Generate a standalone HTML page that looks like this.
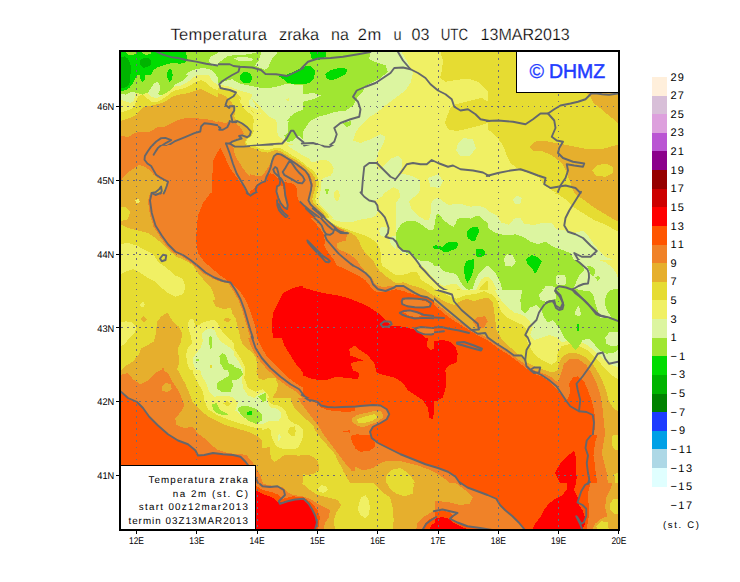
<!DOCTYPE html>
<html><head><meta charset="utf-8"><title>Temperatura zraka</title>
<style>
html,body{margin:0;padding:0;background:#fff;}
body{width:740px;height:582px;overflow:hidden;font-family:"Liberation Sans",sans-serif;}
svg{display:block}
text{font-family:"Liberation Sans",sans-serif;fill:#000}
</style></head><body>
<svg width="740" height="582" viewBox="0 0 740 582" shape-rendering="crispEdges">
<rect width="740" height="582" fill="#fff"/>
<defs><clipPath id="mapclip"><rect x="121" y="52" width="497" height="477"/></clipPath></defs>
<g clip-path="url(#mapclip)">

<svg x="118" y="48" width="185" height="145" viewBox="0 0 740 580">
<rect x="-10" y="-10" width="760" height="600" fill="#f08228"/>
<polygon fill="#ff5500" points="409.5,399.5 392,427 382,447 379.5,472 378,502 377,582 514.5,582 509.5,572 499.5,552 482,527 467,507 452,487 437,457 422,422"/>
<polygon fill="#ff5500" points="552,582 564.5,557 582,542 597,527 607,507 617,502 627,512 637,522 652,527 672,532 692,542 707,552 712,582"/>
<polygon fill="#e6af2d" points="0,352 40,348 80,343 120,335 160,322 200,302 240,288 290,280 330,283 368,282 388,287 408,295 428,300 443,295 468,300 488,315 503,340 500,350 483,360 468,365 453,375 455,385 462,400 465,417 472,437 485,457 497,477 512,497 527,515 537,520 557,517 572,512 587,502 597,487 607,472 612,452 617,437 625,425 632,425 652,430 672,440 692,452 712,467 732,485 742,492 740,0 0,0"/>
<polygon fill="#e6af2d" points="0,542 10,532 25,512 40,497 60,484.5 85,467 105,474.5 120,484.5 132.5,492 142.5,507 155,517 170,526 187.5,532 197.5,539.5 192.5,562 187.5,582 0,582"/>
<polygon fill="#e6dc32" points="0,286 10,285 30,280 45,272.5 65,255 80,235 87.5,215 95,210 107.5,220 125,230 150,232.5 170,230 190,225 210,215 230,202.5 250,185 270,170 290,155 305,137.5 320,127.5 340,127.5 360,132.5 370,142.5 387,172 402,182 422,188 437,198 447,210 452,215 463,230 468,250 465,275 473,292 493,297 508,307 523,325 530,337 525,350 513,365 508,377 513,390 533,395 553,400 568,410 583,425 603,432 620,415 640,408 665,422 690,442 715,465 740,488 740,0 0,0"/>
<polygon fill="#f0f064" points="0,261 10,260 25,257.5 40,252.5 55,240 60,225 70,210 82.5,200 97.5,197.5 110,205 125,215 142.5,220 165,220 185,215 205,205 220,195 235,180 250,167.5 265,157.5 280,140 295,120 310,112.5 330,111 350,107.5 370,115 387,152.5 407,162.5 427,165 447,167.5 467,175 482,187.5 492,200 494.5,215 502,230 517,240 537,250 547,265 483,200 490.5,220 503,240 518,255 538,270 543,290 540.5,315 543,335 535.5,350 518,365 510.5,375 518,386 538,392.5 558,397.5 578,405 593,420 608,425 628,415 648,400 668,395 688,400 708,410 738,425 740,0 0,0"/>
<polygon fill="#dcf5a0" points="0,223.5 10,222.5 30,220 45,215 55,205 65,192.5 80,185 100,182.5 115,190 130,200 145,207.5 165,205 185,200 200,192.5 215,180 230,167.5 245,155 260,145 270,130 280,112.5 295,100 315,97.5 340,92.5 360,87.5 370,87.5 387,137.5 402,145 422,150 447,155 472,165 497,172.5 522,180 537,187.5 532,200 522,215 527,230 542,240 562,250 572,265 533,200 548,215 568,235 583,255 603,275 628,285 638,305 635.5,330 640.5,350 658,365 673,375 688,385 713,387.5 738,397.5 740,0 0,0"/>
<polygon fill="#a0e632" points="0,201 10,200 30,197.5 50,192.5 65,180 80,172.5 100,170 120,167.5 135,160 150,147.5 160,137.5 167.5,145 170,160 165,175 155,185 165,192.5 180,195 197.5,190 210,180 217.5,165 230,155 240,145 250,135 260,120 267.5,107.5 275,95 287.5,85 305,80 325,77.5 350,70 370,67.5 372.5,55 360,47.5 365,35 372.5,22.5 372.5,0 0,0"/>
<polygon fill="#a0e632" points="386,95 387,80 402,60 422,45 437,32.5 462,29 492,27.5 522,25 542,21 572,10 742,10 742,150 722,147.5 692,145 672,142.5 652,150 632,155 612,159 592,161 572,160 547,155 522,150 497,145 472,135 457,125 442,127.5 422,135 407,142.5 394.5,135 387,115"/>
<polygon fill="#dcf5a0" points="572,10 644.5,10 627,30 614.5,45 607,62.5 599.5,80 587,87.5 569.5,80 547,70 562,50 569.5,30"/>
<polygon fill="#dcf5a0" points="464.5,42.5 482,36 507,36 532,40 539.5,47.5 527,54 502,52.5 479.5,50"/>
<polygon fill="#a0e632" points="677,290 692,272.5 712,257.5 732,250 742,247.5 742,290"/>
<polygon fill="#a0e632" points="665.5,350 678,340 680.5,300 688,275 713,260 738,250 738,365 725.5,350 713,355 698,370 678,377.5 670.5,365"/>
<polygon fill="#00dc00" points="0,0 260,0 272.5,30 280,45 270,55 250,62.5 235,60 215,65 200,60 185,67.5 170,75 150,77.5 140,87.5 132.5,100 127.5,120 117.5,135 107.5,140 97.5,132.5 92.5,117.5 85,110 77.5,120 75,140 70,160 60,175 47.5,182.5 30,186 0,188.5"/>
<polygon fill="#00dc00" points="197.5,87.5 207.5,82.5 217.5,87.5 218.5,110 212.5,125 200,137.5 196,115"/>
<polygon fill="#00dc00" points="489.5,107.5 499.5,97.5 517,95 532,105 536,122.5 529.5,137.5 512,142.5 497,137.5 488,125"/>
<polygon fill="#00dc00" points="642,112.5 672,107.5 697,97.5 722,85 742,75 742,146 722,145 697,142.5 677,140 667,127.5 654.5,120"/>
<polygon fill="#a0e632" points="25,10 82.5,10 82.5,22.5 60,26 35,24"/>
<polygon fill="#a0e632" points="107.5,10 150,10 145,21 125,25 110,20"/>
<polygon fill="#00b400" points="0,42.5 12.5,40 25,37.5 40,50 52.5,70 57.5,90 52.5,110 50,130 47.5,150 37.5,165 25,167.5 0,161"/>
<polygon fill="#00b400" points="87.5,52.5 100,45 117.5,40 132.5,45 135,60 125,70 112.5,80 100,75 90,65"/>
<polygon fill="#f0f064" points="672,205 684.5,199 686,212.5 677,211"/>
</svg>
<svg x="303" y="48" width="185" height="145" viewBox="0 0 740 580">
<rect x="-10" y="-10" width="760" height="600" fill="#f0f064"/>
<polygon fill="#e6dc32" points="545,0 560,50 555,90 548,120 570,135 610,128 660,122 700,135 725,160 740,175 740,0"/>
<polygon fill="#e6dc32" points="740,215 715,200 690,205 650,215 610,225 590,240 578,270 568,300 580,325 615,332 660,322 700,312 740,300"/>
<polygon fill="#dcf5a0" points="0,0 385,0 420,60 440,100 430,140 410,170 370,200 330,230 300,255 260,280 230,310 210,340 200,370 230,380 270,365 310,345 330,355 320,385 300,420 290,460 297,475 304,488 324,468 354,441 381,431 397,448 394,481 381,501 407,504 440,514 467,527 470,561 462,584 0,584"/>
<polygon fill="#f0f064" points="321,584 334,575 361,557 381,567 387,584"/>
<polygon fill="#dcf5a0" points="640,360 680,365 692,400 670,430 630,432 612,410 620,380"/>
<polygon fill="#dcf5a0" points="500,520 540,505 560,530 545,560 510,555"/>
<polygon fill="#f0f064" points="50,470 80,450 115,465 125,500 100,525 60,520"/>
<polygon fill="#a0e632" points="0,0 270,0 265,45 300,60 330,70 340,95 310,120 280,135 250,150 240,175 215,200 200,230 170,250 130,255 100,265 60,275 30,290 10,320 0,335"/>
<polygon fill="#dcf5a0" points="0,185 40,180 70,190 40,205 0,215"/>
<polygon fill="#a0e632" points="160,300 190,292 195,305 175,318"/>
<polygon fill="#00dc00" points="0,75 30,70 48,90 45,120 25,140 0,145"/>
<polygon fill="#00dc00" points="25,0 95,0 90,35 60,50 35,45"/>
<polygon fill="#00dc00" points="88,105 110,88 150,78 178,85 170,105 140,120 115,130 95,122"/>
<polygon fill="#f0f064" points="0,400 30,420 60,460 75,510 70,580 0,580"/>
<polygon fill="#e6dc32" points="0,470 25,478 50,505 58,545 50,580 0,580"/>
<polygon fill="#e6af2d" points="0,480 22,487 42,510 48,545 40,580 0,580"/>
<polygon fill="#f08228" points="0,490 18,495 35,515 40,545 30,575 0,580"/>
</svg>
<svg x="488" y="48" width="185" height="145" viewBox="0 0 740 580">
<rect x="-10" y="-10" width="760" height="600" fill="#e6dc32"/>
<polygon fill="#f0f064" points="0,325 30,350 60,390 75,430 90,460 130,490 170,502 204,518 224,548 254,568 280,584 0,584"/>
<polygon fill="#e6af2d" points="392,180 411,199 424,222 448,240 475,263 503,286 525,304 525,180"/>
<polygon fill="#e6af2d" points="165,395 185,375 220,370 260,378 300,385 350,395 400,405 450,405 490,395 525,385 525,584 349,584 339,568 329,538 314,498 294,458 254,428 214,412 180,410"/>
<polygon fill="#e6dc32" points="415,490 435,470 470,462 500,475 500,500 470,515 435,512"/>
</svg>
<svg x="118" y="193" width="185" height="145" viewBox="0 0 740 580">
<rect x="-10" y="-10" width="760" height="600" fill="#e6dc32"/>
<polygon fill="#e6af2d" points="0,0 0,120 40,140 80,150 120,160 150,180 180,205 210,235 235,255 270,270 300,290 320,320 345,350 370,375 385,410 390,440 420,470 450,480 470,500 480,540 490,580 740,580 740,0"/>
<polygon fill="#f08228" points="127,-5 127,4 120,34 127,84 142,134 167,174 192,209 222,239 252,252 282,272 312,296 342,322 377,342 412,356 442,362 462,392 482,429 497,469 510,514 522,554 532,584 740,580 740,-5"/>
<polygon fill="#ff5500" points="370,0 340,40 320,90 315,140 312,190 320,240 345,275 380,305 410,330 440,352 468,372 492,400 512,430 528,470 542,510 552,550 557,580 740,580 740,0"/>
<polygon fill="#ff0000" points="620,580 615,530 620,480 640,440 660,400 700,380 740,370 740,580"/>
<polygon fill="#e6af2d" points="150,530 165,500 185,478 205,485 215,510 240,530 265,550 270,580 150,580"/>
<polygon fill="#e6af2d" points="88,505 100,488 115,500 105,520"/>
<polygon fill="#e6af2d" points="420,505 435,495 450,505 438,520"/>
<polygon fill="#f0f064" points="0,515 30,512 60,520 72,545 62,584 0,584"/>
<polygon fill="#e6dc32" points="0,60 30,55 48,75 40,105 0,115"/>
<polygon fill="#f0f064" points="68,30 80,22 88,35 75,42"/>
<polygon fill="#f0f064" points="0,205 40,200 75,210 110,230 140,245 165,280 195,300 230,330 260,345 270,375 260,405 230,415 200,400 175,380 150,355 120,340 90,320 60,305 30,315 0,330"/>
<polygon fill="#f0f064" points="275,520 290,500 310,520 318,580 280,580"/>
<polygon fill="#f0f064" points="82,445 98,430 110,445 100,462"/>
<polygon fill="#f0f064" points="335,540 360,515 390,520 405,560 410,580 330,580"/>
<polygon fill="#dcf5a0" points="345,565 365,545 385,555 390,580 345,580"/>
</svg>
<svg x="303" y="193" width="185" height="145" viewBox="0 0 740 580">
<rect x="-10" y="-10" width="760" height="600" fill="#ff5500"/>
<polygon fill="#ff0000" points="0,378 40,390 80,400 130,408 180,420 230,440 270,460 300,480 330,510 350,530 400,535 440,545 470,560 490,580 0,580"/>
<polygon fill="#f08228" points="0,65 15,80 30,100 50,120 70,145 82.5,165 87.5,190 85,210 95,230 110,250 125,270 135,290 160,300 190,315 220,330 250,350 268,372 285,392 310,398 345,392 372,385 402,392 422,399.5 452,408 487,414.5 517,429.5 537,447 554.5,467 572,484.5 592,498 612,512 632,527 652,542 672,554.5 692,562 717,566 742,569.5 745,0 0,0"/>
<polygon fill="#f08228" points="399.5,429.5 417,423 452,424.5 487,432 509.5,442 507,452 482,456 447,454.5 417,449.5 399.5,442"/>
<polygon fill="#f08228" points="402,477 427,472 457,479.5 472,489.5 457,497 427,492"/>
<polygon fill="#f08228" points="542,527 572,527 607,537 642,552 672,564.5 652,567 622,557 587,544.5 552,537"/>
<polygon fill="#f08228" points="452,542 482,537 522,542 572,547 577,557 537,559.5 497,564.5 467,557"/>
<polygon fill="#e6af2d" points="22.5,0 27.5,30 37.5,55 52.5,77.5 70,95 90,110 115,125 140,137.5 160,147.5 175,165 172.5,190 150,195 137.5,200 135,215 145,227.5 165,235 185,245 205,260 220,275 230,290 250,315 275,340 292,368 320,376 350,372 372,373 372,373 402,370.5 422,383 447,398 472,410.5 497,418 522,433 542,450.5 559.5,468 577,483 597,492 617,499.5 637,504.5 657,507 677,502 697,494.5 717,489.5 732,492 734.5,512 722,527 717,547 727,567 742,577 745,0 0,0"/>
<polygon fill="#e6dc32" points="30,0 35,30 45,60 62.5,85 82.5,102.5 105,117.5 130,131 155,142.5 175,152.5 195,162.5 210,172.5 220,185 227.5,200 235,220 250,240 265,255 280,270 290,290 305,310 335,335 372,362 372,362 402,357 427,367 452,374.5 482,384.5 507,399.5 527,417 547,437 567,454.5 587,464.5 607,469.5 622,457 632,432 652,427 672,437 692,447 712,452 722,437 729.5,417 742,412 745,0 0,0"/>
<polygon fill="#f0f064" points="37.5,0 42.5,30 52.5,60 72.5,87.5 95,107.5 120,122.5 145,135 170,142.5 190,150 210,157.5 235,165 260,175 280,187.5 295,200 305,215 310,235 312.5,260 315,290 372,329.5 397,327 422,322 434.5,314.5 452,314.5 464.5,329.5 472,347 492,359.5 517,374.5 537,392 557,412 572,427 587,442 602,454.5 612,442 607,417 604.5,392 622,382 642,399.5 672,409.5 697,399.5 712,372 742,347 745,0 0,0"/>
<polygon fill="#dcf5a0" points="50,0 55,30 65,55 85,80 110,100 140,112.5 170,117.5 200,115 225,107.5 250,102.5 270,100 290,90 300,70 295,50 285,35 265,27.5 245,15 232.5,0"/>
<polygon fill="#f0f064" points="127.5,0 147.5,0 142.5,25 136,35 131,20"/>
<polygon fill="#dcf5a0" points="232.5,-2.5 325,-2.5 320,10 300,25 280,32.5 267.5,30 247.5,16"/>
<polygon fill="#dcf5a0" points="305,150 312.5,137.5 330,135 340,150 335,170 320,175 307.5,167.5"/>
<polygon fill="#dcf5a0" points="372,37.5 387,20 389.5,0 459.5,0 457,7.5 437,20 424.5,35 432,60 447,77.5 467,95 487,107.5 502,107.5 509.5,90 512,60 514.5,35 527,22.5 542,20 557,30 572,42.5 587,50 607,42.5 632,42.5 652,50 672,55 697,50 722,57.5 744.5,70 744.5,292 744.5,334.5 727,337 712,347 702,367 692,389.5 672,399.5 652,397 632,382 617,367 602,362 582,367 562,372 537,357 517,334.5 497,312 479.5,292 469.5,290 452,267.5 437,250 424.5,245 399.5,240 382,225 372,200"/>
<polygon fill="#dcf5a0" points="345,185 357.5,172.5 372.5,170 372.5,225 360,215 350,200"/>
<polygon fill="#a0e632" points="372,160 382,140 397,120 417,112.5 447,112.5 472,125 492,140 507,150 522,145 528,120 531,95 539.5,80 552,95 567,112.5 587,127.5 602,135 612,120 617,102.5 642,100 672,102.5 692,92.5 704.5,92.5 722,107.5 744.5,125 744.5,292 732,292 717,307 702,322 692,342 684.5,367 677,384.5 659.5,387 642,372 627,352 617,329.5 597,319.5 572,317 557,307 544.5,292 522,290 517,280 497,270 472,272.5 447,260 427,245 407,235 387,220 372,200"/>
<polygon fill="#00dc00" points="519.5,215 529.5,207.5 542,212.5 557,215 572,202.5 587,195 617,196 619.5,210 612,222.5 592,230 577,237.5 562,235 547,225 527,225"/>
<polygon fill="#00dc00" points="654.5,155 667,142.5 682,135 699.5,137.5 706,150 699.5,165 692,180 689.5,192.5 674.5,192.5 662,182.5 655.5,170"/>
<polygon fill="#00dc00" points="692,225 717,224 729.5,237.5 724.5,252.5 702,257.5 691,250"/>
<polygon fill="#00dc00" points="647,292 652,272.5 667,267.5 682,265 683,292 684.5,292 679.5,317 669.5,342 657,359.5 649.5,342 644.5,317 644.5,292"/>
</svg>
<svg x="488" y="193" width="185" height="145" viewBox="0 0 740 580">
<rect x="-10" y="-10" width="760" height="600" fill="#f0f064"/>
<polygon fill="#e6dc32" points="250,-5 284,8 314,28 344,58 384,83 424,108 474,128 525,158 525,-5"/>
<polygon fill="#e6af2d" points="345,-5 354,8 384,28 424,58 474,88 525,118 525,-5"/>
<polygon fill="#dcf5a0" points="0,72 34,88 54,118 84,128 104,103 129,98 144,123 184,128 224,118 254,118 274,145 310,150 345,160 380,150 400,170 420,200 440,225 470,255 500,268 525,272 525,580 0,580"/>
<polygon fill="#dcf5a0" points="100,25 115,10 135,20 130,42 108,45"/>
<polygon fill="#a0e632" points="0,140 30,160 70,170 110,165 140,175 170,195 200,205 230,195 260,215 290,225 330,240 345,270 370,300 395,320 400,345 370,360 345,380 365,400 400,430 430,460 450,485 480,500 525,515 525,580 220,580 200,560 170,530 185,500 200,470 195,440 175,460 150,480 120,475 90,440 60,400 50,360 30,320 0,290"/>
<polygon fill="#a0e632" points="470,410 490,390 525,385 525,440 495,445 472,430"/>
<polygon fill="#a0e632" points="430,340 440,333 447,343 438,350"/>
<polygon fill="#dcf5a0" points="62,265 75,245 100,250 112,275 95,295 70,290"/>
<polygon fill="#dcf5a0" points="270,340 300,330 312,350 300,372 275,368"/>
<polygon fill="#dcf5a0" points="350,340 365,315 390,300 405,320 395,350 370,362"/>
<polygon fill="#dcf5a0" points="200,400 225,380 260,378 272,400 255,430 225,440 205,425"/>
<polygon fill="#dcf5a0" points="345,475 360,455 375,470 365,492"/>
<polygon fill="#dcf5a0" points="230,540 250,520 265,540 250,570 235,565"/>
<polygon fill="#00dc00" points="150,265 175,248 200,258 215,275 200,305 188,325 175,300 158,282"/>
<polygon fill="#00dc00" points="355,525 362,525 362,555 355,555"/>
<polygon fill="#f0f064" points="0,335 20,355 40,395 60,435 90,465 120,495 150,503 168,525 158,555 140,580 0,580"/>
<polygon fill="#e6dc32" points="0,395 20,420 40,460 70,490 110,510 130,525 100,540 70,545 50,580 0,580"/>
<polygon fill="#e6af2d" points="0,410 15,440 30,480 35,520 30,580 0,580"/>
<polygon fill="#f08228" points="0,470 12,500 15,540 8,580 0,580"/>
</svg>
<svg x="118" y="338" width="185" height="145" viewBox="0 0 740 580">
<rect x="-10" y="-10" width="760" height="600" fill="#e6af2d"/>
<polygon fill="#f08228" points="0,150 40,140 60,165 90,185 120,170 150,140 175,125 200,140 215,170 235,200 250,228 266,268 253,294 229,321 233,348 266,361 299,354 319,381 346,401 372,427 399,447 439,461 492,464 515,470 540,500 565,540 580,580 0,580"/>
<polygon fill="#e6af2d" points="175,195 190,180 212,185 215,205 195,218 178,210"/>
<polygon fill="#ff5500" points="0,205 12,215 40,240 75,255 100,280 125,315 160,350 200,385 240,410 280,425 310,450 320,470 345,468 380,460 420,465 460,468 490,475 510,495 525,515 545,545 560,580 0,580"/>
<polygon fill="#f08228" points="518,-5 535,40 560,82 595,124 636,162 678,194 715,216 745,245 745,-5"/>
<polygon fill="#ff5500" points="555,0 575,40 600,80 630,110 670,150 710,180 745,202 745,0"/>
<polygon fill="#ff0000" points="655,0 665,30 690,70 715,110 745,142 745,0"/>
<polygon fill="#e6dc32" points="235,0 225,40 230,90 245,140 270,185 285,220 300,260 330,290 370,320 420,345 470,360 520,375 560,395 590,420 600,450 605,480 620,500 650,495 690,470 730,450 745,445 745,300 700,310 660,290 640,260 624,248 620,234 634,214 640,187 630,161 607,158 581,168 561,161 554,134 557,108 551,78 534,54 514,41 497,21 487,-5"/>
<polygon fill="#e6dc32" points="0,-5 75,-5 78,20 70,45 85,70 60,95 30,108 0,112"/>
<polygon fill="#f0f064" points="0,-5 62,-5 55,8 35,14 0,14"/>
<polygon fill="#f0f064" points="300,0 290,40 295,90 300,140 320,180 340,215 345,250 360,285 400,310 450,330 500,345 550,360 590,360 630,350 650,320 640,285 610,260 600,225 580,205 550,215 520,200 505,160 510,120 490,80 470,50 450,20 440,0"/>
<polygon fill="#f0f064" points="625,390 640,370 660,385 655,415 635,420"/>
<polygon fill="#f0f064" points="682,370 700,352 715,368 705,390 688,388"/>
<polygon fill="#dcf5a0" points="330,0 315,40 320,100 335,150 355,185 365,215 385,235 420,230 455,235 480,260 470,290 490,310 530,335 570,345 610,335 635,315 625,290 600,280 585,250 590,215 570,220 545,240 520,230 500,200 495,160 500,125 480,90 455,55 430,25 410,0"/>
<polygon fill="#f0f064" points="400,265 420,240 455,240 470,262 455,285 420,288"/>
<polygon fill="#e6dc32" points="420,262 435,252 452,262 440,275"/>
<polygon fill="#a0e632" points="405,70 420,60 435,75 440,100 465,115 490,125 500,145 480,165 455,170 460,190 450,215 415,218 395,200 395,180 420,165 445,150 440,130 415,115 405,95"/>
<polygon fill="#a0e632" points="375,265 395,260 405,285 430,300 445,305 420,310 395,300 380,285"/>
<polygon fill="#a0e632" points="478,285 495,270 520,272 555,285 575,305 575,330 555,345 520,330 495,310"/>
<polygon fill="#a0e632" points="560,235 590,218 595,250 580,255"/>
<polygon fill="#a0e632" points="365,0 378,0 375,45 368,40"/>
<polygon fill="#00dc00" points="515,295 535,293 537,307 517,308"/>
</svg>
<svg x="303" y="338" width="185" height="145" viewBox="0 0 740 580">
<rect x="-10" y="-10" width="760" height="600" fill="#ff5500"/>
<polygon fill="#ff0000" points="0,0 500,0 495,35 510,50 525,40 530,15 560,10 600,20 615,40 620,70 610,100 580,120 570,150 575,190 570,235 540,240 525,280 520,325 505,320 500,280 480,250 450,230 420,210 400,180 370,160 330,150 295,140 285,100 260,70 230,50 205,30 185,45 190,70 215,80 240,90 210,95 190,100 200,130 225,140 220,165 180,160 130,155 90,170 40,165 0,150"/>
<polygon fill="#f08228" points="-5,228 30,245 70,268 120,275 180,278 230,272 280,268 310,270 335,285 345,305 335,325 310,340 280,355 268,375 275,400 300,420 340,440 390,465 440,485 490,505 540,520 580,535 610,555 630,584 0,584"/>
<polygon fill="#ff5500" points="190,395 215,385 250,390 270,385 285,410 290,435 265,452 230,455 205,440"/>
<polygon fill="#ff5500" points="160,370 185,370 185,378 160,378"/>
<polygon fill="#e6af2d" points="195,320 215,308 250,300 290,290 315,295 322,315 300,335 270,345 240,358 215,350"/>
<polygon fill="#e6dc32" points="215,325 245,315 285,305 300,315 280,330 245,340 220,338"/>
<polygon fill="#e6af2d" points="0,280 30,300 55,330 80,370 110,410 140,445 170,480 200,510 240,530 280,520 310,500 340,490 380,490 420,500 460,510 500,525 540,545 570,565 590,584 0,584"/>
<polygon fill="#e6dc32" points="0,330 30,345 50,380 80,420 110,460 140,500 165,540 190,584 0,584"/>
<polygon fill="#e6dc32" points="335,545 360,525 390,520 420,540 440,565 450,584 330,584"/>
<polygon fill="#f0f064" points="0,340 20,360 30,400 25,440 0,450"/>
<polygon fill="#e6af2d" points="0,475 30,465 55,480 65,510 50,540 20,548 0,545"/>
</svg>
<svg x="488" y="338" width="185" height="145" viewBox="0 0 740 580">
<rect x="-10" y="-10" width="760" height="600" fill="#ff5500"/>
<polygon fill="#ff0000" points="268,540 290,500 320,470 345,450 352,480 350,520 355,560 350,584 290,584 278,560"/>
<polygon fill="#f08228" points="0,10 40,45 80,80 120,110 160,130 200,140 240,160 275,195 300,215 315,185 325,150 345,120 370,125 395,160 412,200 428,250 440,300 445,340 440,380 428,420 422,470 428,510 432,550 438,584 525,584 525,0 0,0"/>
<polygon fill="#e6af2d" points="0,0 30,15 70,50 110,85 150,105 190,120 230,135 265,165 285,150 300,120 320,95 350,90 380,105 410,140 435,180 450,220 460,270 468,320 470,370 462,420 455,460 465,500 475,540 480,584 525,584 525,0"/>
<polygon fill="#e6dc32" points="0,0 40,25 80,55 120,80 160,95 200,105 240,120 265,140 280,120 295,95 320,75 355,72 390,90 420,120 450,160 470,200 484,248 499,278 525,293 525,0"/>
<polygon fill="#e6dc32" points="494,400 505,380 525,378 525,450 505,445 495,425"/>
<polygon fill="#e6dc32" points="505,545 525,535 525,584 510,584"/>
<polygon fill="#f0f064" points="150,0 160,40 165,75 200,90 235,100 260,110 275,85 295,65 330,55 365,55 395,70 420,95 445,130 470,160 490,185 510,200 525,205 525,0"/>
<polygon fill="#dcf5a0" points="290,0 305,30 330,50 360,45 390,20 410,30 420,70 440,110 470,140 500,150 525,150 525,0"/>
<polygon fill="#a0e632" points="305,0 320,25 345,45 360,25 380,0"/>
<polygon fill="#a0e632" points="420,0 425,40 440,80 460,110 490,125 525,120 525,0"/>
<polygon fill="#dcf5a0" points="470,0 468,25 490,40 510,30 515,0"/>
</svg>
<svg x="250" y="483" width="185" height="52" viewBox="0 52 740 208">
<rect x="-10" y="-10" width="760" height="280" fill="#e6af2d"/>
<polygon fill="#f08228" points="0,20 20,30 40,50 70,60 100,65 130,70 150,90 170,100 210,105 240,115 270,135 300,150 320,160 315,190 300,210 295,240 0,240"/>
<polygon fill="#ff5500" points="0,50 20,60 50,80 90,90 115,100 130,115 170,105 215,110 245,130 270,160 280,190 275,220 272,240 0,240"/>
<polygon fill="#ff0000" points="0,70 20,80 50,95 90,110 110,130 140,125 180,115 215,120 240,145 260,175 268,210 262,240 0,240"/>
<polygon fill="#e6dc32" points="195,20 230,10 280,5 330,10 380,0 440,0 480,30 500,60 530,90 560,110 570,150 575,200 570,240 340,240 335,200 345,170 365,140 350,120 310,110 270,100 240,80 210,55"/>
<polygon fill="#e6dc32" points="545,45 570,20 610,15 640,30 655,60 650,95 620,105 585,95 560,75"/>
<polygon fill="#f0f064" points="435,135 445,110 462,100 475,120 480,150 475,180 460,192 442,180 432,160"/>
<polygon fill="#f0f064" points="270,75 285,60 305,65 312,80 295,92 278,88"/>
<polygon fill="#f08228" points="665,240 670,210 690,190 715,175 745,158 745,240"/>
<polygon fill="#ff5500" points="690,240 700,215 720,195 745,183 745,240"/>
<polygon fill="#ff0000" points="715,240 725,220 745,208 745,240"/>
</svg>
<svg x="435" y="483" width="185" height="52" viewBox="0 52 740 208">
<rect x="-10" y="-10" width="760" height="280" fill="#ff5500"/>
<polygon fill="#ff0000" points="480,0 540,0 560,20 565,50 555,80 570,110 575,140 590,160 600,190 600,215 590,240 390,240 400,215 420,190 435,160 455,135 480,115 510,100 530,75 525,45 500,25"/>
<polygon fill="#f08228" points="40,-5 70,25 100,50 130,70 170,85 210,100 245,115 260,140 280,160 310,185 335,210 360,240 0,240 0,0"/>
<polygon fill="#e6af2d" points="0,25 40,30 80,50 120,80 150,110 140,135 100,140 60,130 20,125 0,125"/>
<polygon fill="#ff5500" points="0,170 30,162 60,170 75,185 65,198 95,212 135,228 185,235 230,240 0,240"/>
<polygon fill="#ff0000" points="0,195 30,188 55,195 70,210 100,225 140,240 0,240"/>
<polygon fill="#f08228" points="605,0 625,30 620,60 610,100 615,140 615,185 610,215 605,240 740,240 740,0"/>
<polygon fill="#e6af2d" points="740,20 715,40 700,80 685,110 680,150 690,185 665,195 640,215 630,240 740,240"/>
<polygon fill="#e6dc32" points="700,135 715,115 740,115 740,180 715,175 702,160"/>
<polygon fill="#e6dc32" points="645,225 665,205 690,210 695,235 650,240"/>
</svg>
<svg x="434" y="290" width="184" height="145" viewBox="0 0 736 580">
<rect x="-10" y="-10" width="760" height="600" fill="#ff5500"/>
<polygon fill="#ff0000" points="0,205 30,200 60,205 85,225 95,255 90,290 60,300 45,320 50,360 45,400 35,430 10,445 0,445"/>
<polygon fill="#f08228" points="0,60 30,85 60,110 100,135 140,160 180,185 220,205 260,235 300,260 340,290 370,315 400,335 430,345 460,365 490,395 510,420 530,445 545,410 540,375 555,350 575,345 600,365 615,400 630,440 640,480 645,520 640,584 745,584 745,-5 0,-5"/>
<polygon fill="#e6af2d" points="0,45 30,70 60,95 100,125 140,150 180,175 220,195 260,225 300,250 340,280 370,300 400,320 440,335 470,350 495,370 510,330 520,295 545,275 575,275 610,300 635,340 655,385 668,430 675,480 680,530 685,584 745,584 745,-5 0,-5"/>
<polygon fill="#f08228" points="155,125 175,108 205,105 215,125 200,150 175,158"/>
<polygon fill="#e6dc32" points="0,20 40,45 80,60 105,45 130,35 160,45 190,35 215,30 235,50 240,80 245,120 250,160 270,195 300,225 335,255 365,285 400,305 440,320 475,330 495,320 500,290 515,265 545,250 580,255 615,275 645,310 670,355 688,400 698,440 715,470 735,485 745,490 745,-5 0,-5"/>
<polygon fill="#f0f064" points="20,-5 50,20 90,35 130,20 170,15 200,5 235,20 255,45 265,80 285,105 320,125 355,140 375,165 370,200 385,230 400,255 430,280 470,300 490,285 495,250 510,225 545,215 580,225 620,245 650,275 680,310 710,340 745,362 745,-5"/>
<polygon fill="#dcf5a0" points="240,-5 260,30 285,60 320,90 355,100 380,120 395,150 385,180 400,200 430,190 460,180 490,190 510,210 545,200 585,205 620,225 650,250 680,280 710,300 745,312 745,-5"/>
<polygon fill="#a0e632" points="355,-5 345,40 350,80 365,95 385,70 410,60 430,80 440,110 455,130 475,120 500,150 520,190 545,215 565,240 580,225 595,200 620,195 640,215 660,240 690,255 720,250 745,235 745,-5"/>
<polygon fill="#dcf5a0" points="420,20 440,-5 480,-5 470,30 445,45 425,40"/>
<polygon fill="#dcf5a0" points="565,85 578,65 590,85 578,100"/>
<polygon fill="#dcf5a0" points="685,190 700,170 745,165 745,220 710,225 690,215"/>
<polygon fill="#dcf5a0" points="690,-5 745,-5 745,40 715,45 695,30"/>
<polygon fill="#00dc00" points="572,135 579,135 579,165 572,165"/>
</svg>
<svg x="250" y="145" width="93" height="73" viewBox="0 0 740 580.86">
<rect x="-10" y="-10" width="760" height="600.86" fill="#ff5500"/>
<polygon fill="#f08228" points="-5,372 30,350 50,320 80,300 110,290 130,270 140,240 160,225 185,232 210,255 240,275 270,290 300,300 330,305 360,320 375,350 375,400 385,440 410,470 440,500 470,530 500,560 520,590 750,590 750,-5 -5,-5"/>
<polygon fill="#f08228" points="215,330 235,315 260,330 275,370 285,420 295,470 290,505 265,490 240,455 225,415 213,375"/>
<polygon fill="#e6af2d" points="-5,232 30,240 60,250 90,245 120,215 140,185 160,150 175,115 195,85 220,70 250,75 290,95 330,115 370,140 410,170 445,200 475,235 490,270 500,310 495,350 480,390 470,430 480,465 510,500 540,530 570,560 590,590 750,590 750,-5 -5,-5"/>
<polygon fill="#e6dc32" points="-5,18 30,25 60,40 100,55 140,60 170,50 200,40 230,45 270,65 310,90 350,110 390,135 430,165 465,195 495,225 515,260 525,300 520,345 505,390 495,430 505,460 530,490 560,520 590,550 615,590 750,590 750,-5 -5,-5"/>
<polygon fill="#f0f064" points="20,-5 50,15 100,35 150,40 190,25 225,20 260,35 300,60 340,85 380,110 420,140 455,170 490,195 520,225 540,260 548,300 545,345 530,390 520,430 530,460 555,490 585,520 615,550 640,590 750,590 750,-5"/>
<polygon fill="#dcf5a0" points="290,-5 320,20 360,45 400,70 440,95 470,105 480,130 510,140 540,125 580,115 620,125 650,150 665,185 660,220 640,245 610,255 580,265 565,300 565,350 555,400 545,440 555,470 580,500 610,530 640,555 670,590 750,590 750,-5"/>
<polygon fill="#f0f064" points="670,380 690,355 710,370 715,410 700,445 680,440 668,410"/>
<polygon fill="#a0e632" points="598,355 612,345 628,355 622,380 612,395 602,375"/>
</svg>
<svg x="262" y="398" width="93" height="73" viewBox="0 0 740 580.86">
<rect x="-10" y="-10" width="760" height="600.86" fill="#e6dc32"/>
<polygon fill="#e6af2d" points="225,-5 240,40 260,80 290,110 320,140 350,170 380,190 405,215 420,250 440,285 470,320 500,350 530,390 560,420 585,455 600,490 620,530 640,560 650,590 750,590 750,-5"/>
<polygon fill="#f08228" points="285,-5 310,40 340,80 370,120 400,160 430,200 460,240 490,290 520,330 550,370 580,410 610,450 640,490 670,530 700,560 720,590 750,590 750,-5"/>
<polygon fill="#ff5500" points="345,-5 370,12 400,25 440,45 470,75 520,95 580,105 640,108 700,108 750,105 750,-5"/>
<polygon fill="#ff5500" points="705,300 750,295 750,400 725,370 710,330"/>
<polygon fill="#ff5500" points="645,262 700,257 700,275 650,272"/>
<polygon fill="#e6af2d" points="712,165 735,150 750,150 750,215 730,205 715,185"/>
<polygon fill="#e6af2d" points="-5,400 30,395 60,390 65,430 70,480 100,510 130,490 160,465 190,450 240,450 290,460 330,450 370,450 410,470 440,500 455,540 450,590 -5,590"/>
<polygon fill="#f0f064" points="40,-5 55,30 80,50 130,60 160,75 185,100 200,140 215,175 250,200 290,215 320,240 330,280 320,330 300,370 285,400 240,405 190,405 140,400 110,375 90,340 75,300 70,260 50,240 20,250 -5,262 -5,-5"/>
<polygon fill="#e6dc32" points="205,260 225,235 260,225 268,260 262,300 240,305 215,285"/>
<polygon fill="#dcf5a0" points="125,300 140,288 150,305 145,335 130,340"/>
<polygon fill="#dcf5a0" points="-5,-5 40,-5 45,40 70,75 120,85 150,110 150,150 135,180 100,185 50,185 20,200 -5,215"/>
<polygon fill="#a0e632" points="-5,-5 35,-5 30,20 10,35 -5,35"/>
</svg>
<svg x="121" y="75" width="97" height="70" viewBox="18.0488 0 583.577 421.138">
<rect x="-10" y="-10" width="760" height="441.138" fill="#f08228"/>
<polygon fill="#e6af2d" points="-5,362 18,365 60,375 100,350 140,340 180,345 215,330 240,310 270,315 300,300 340,280 380,265 420,258 470,260 520,265 560,270 600,285 640,300 680,290 720,300 745,310 745,-5 -5,-5"/>
<polygon fill="#e6dc32" points="-5,278 18,275 50,265 80,255 110,240 130,215 150,195 170,190 200,185 240,175 270,165 300,150 330,130 360,120 390,115 420,110 450,100 480,88 500,85 530,100 560,115 590,130 620,145 650,160 675,185 700,190 720,205 745,220 745,-5 -5,-5"/>
<polygon fill="#f0f064" points="-5,228 18,225 50,215 80,205 100,185 110,150 125,125 150,120 175,140 200,160 230,165 260,150 290,130 320,105 350,90 380,85 410,75 440,60 470,40 500,30 530,45 555,70 580,85 610,95 640,110 665,130 690,150 715,165 745,180 745,-5 -5,-5"/>
<polygon fill="#dcf5a0" points="-5,150 18,150 50,160 75,170 95,155 105,115 120,90 145,85 175,105 200,130 230,140 260,125 285,105 310,85 340,70 375,65 405,50 435,30 460,10 480,-5 -5,-5"/>
<polygon fill="#dcf5a0" points="545,-5 560,25 585,50 610,65 640,80 670,95 700,105 745,120 745,-5"/>
<polygon fill="#a0e632" points="-5,115 18,115 50,118 80,100 110,108 150,118 180,105 200,75 220,48 240,42 252,62 250,95 240,115 265,122 295,105 325,85 340,60 365,45 395,30 415,10 425,-5 -5,-5"/>
<polygon fill="#a0e632" points="585,-5 600,15 630,30 660,25 690,5 700,-5"/>
<polygon fill="#00dc00" points="-5,95 18,95 45,92 70,75 90,50 105,20 115,-5 -5,-5"/>
<polygon fill="#00dc00" points="130,-5 165,-5 160,30 148,45 135,25"/>
<polygon fill="#00dc00" points="295,-5 330,-5 325,30 310,45 298,20"/>
<polygon fill="#00b400" points="-5,-5 75,-5 75,30 65,60 45,75 18,80 -5,80"/>
</svg>
<svg x="121" y="52" width="97" height="23" viewBox="18.0488 24.065 583.577 138.374">
<rect x="-10" y="-10" width="760" height="441.138" fill="#a0e632"/>
<polygon fill="#dcf5a0" points="545,75 560,50 595,32 640,20 745,20 745,62 700,52 668,46 635,65 612,92 590,112 565,105"/>
<polygon fill="#dcf5a0" points="400,170 425,145 465,128 510,120 545,126 575,142 592,165 595,210 395,210"/>
<polygon fill="#f0f064" points="470,210 485,180 505,160 525,170 545,195 555,210"/>
<polygon fill="#00dc00" points="0,20 405,20 415,50 420,75 400,90 370,95 340,90 300,95 270,105 240,115 215,130 200,160 190,200 165,205 150,170 135,165 120,185 115,210 0,210"/>
<polygon fill="#00dc00" points="298,140 312,125 325,135 330,170 320,200 305,210 297,180"/>
<polygon fill="#a0e632" points="45,20 110,20 105,38 80,42 55,38"/>
<polygon fill="#a0e632" points="145,20 200,20 195,36 170,42 150,36"/>
<polygon fill="#00b400" points="0,60 40,50 60,65 75,100 80,140 70,180 65,220 45,245 0,250"/>
<polygon fill="#00b400" points="130,75 155,60 185,62 200,80 195,105 175,115 150,120 135,100"/>
</svg>
<svg x="545" y="260" width="73" height="58" viewBox="0 0 730 580">
<rect x="-10" y="-10" width="760" height="600" fill="#a0e632"/>
<polygon fill="#dcf5a0" points="320,-5 520,-5 600,20 670,70 710,130 725,165 745,175 745,290 700,290 650,300 620,330 605,380 600,440 620,500 650,550 670,590 560,590 540,540 520,480 500,420 490,370 470,330 440,310 400,310 350,300 300,290 290,270 310,225 335,165 365,125 395,105 380,70 345,25"/>
<polygon fill="#f0f064" points="520,-5 600,20 670,70 710,130 725,165 745,175 745,-5"/>
<polygon fill="#a0e632" points="420,65 450,60 480,75 500,100 495,140 480,165 455,140 440,100"/>
<polygon fill="#a0e632" points="505,175 530,160 550,170 545,195 525,205"/>
<polygon fill="#dcf5a0" points="105,170 125,150 200,150 210,180 205,245 130,250 108,230"/>
<polygon fill="#dcf5a0" points="-5,265 60,260 100,270 95,310 110,350 105,390 80,400 40,405 -5,420"/>
<polygon fill="#dcf5a0" points="295,530 315,490 335,460 350,490 360,540 340,560 305,550"/>
</svg>
<svg x="121" y="300" width="113" height="70" viewBox="18.0488 0 679.837 421.138">
<rect x="-10" y="-10" width="760" height="441.138" fill="#e6dc32"/>
<polygon fill="#e6af2d" points="235,130 260,100 295,75 310,95 330,130 365,160 385,200 380,250 360,290 365,340 370,380 350,425 15,425 40,400 90,370 130,320 140,290 180,270 215,250 228,200 232,160"/>
<polygon fill="#e6af2d" points="135,115 155,95 175,115 155,135"/>
<polygon fill="#e6af2d" points="565,-5 590,40 640,55 680,45 690,90 720,110 745,100 745,-5"/>
<polygon fill="#e6af2d" points="632,120 655,105 680,115 660,135"/>
<polygon fill="#f08228" points="262,425 270,405 282,425"/>
<polygon fill="#f0f064" points="0,135 50,128 85,135 110,160 100,200 70,225 45,260 0,292"/>
<polygon fill="#f0f064" points="128,35 150,8 162,25 150,45"/>
<polygon fill="#f0f064" points="420,135 440,110 458,125 465,170 500,140 540,125 580,120 600,140 620,180 650,215 685,245 720,290 745,320 745,425 435,425 415,380 410,330 420,290 445,260 440,220 425,180"/>
<polygon fill="#dcf5a0" points="505,200 530,180 560,170 585,185 595,220 620,250 650,270 690,300 720,340 745,370 745,425 470,425 455,390 450,350 470,320 495,290 510,250"/>
<polygon fill="#a0e632" points="548,225 560,215 568,235 565,290 552,295"/>
<polygon fill="#a0e632" points="610,340 625,320 645,325 655,350 665,380 700,395 735,410 745,425 640,425 615,380"/>
<polygon fill="#a0e632" points="470,355 485,352 487,365 472,367"/>
<polygon fill="#e6dc32" points="552,395 565,392 567,408 553,408"/>
</svg>
<defs><clipPath id="nopatch"><path clip-rule="evenodd" d="M0,0H740V582H0ZM434,290H618V435H434ZM250,145H343V218H250ZM262,398H355V471H262ZM121,75H218V145H121ZM121,52H218V75H121ZM545,260H618V318H545ZM121,300H234V370H121Z"/></clipPath>
<clipPath id="pc0"><rect x="434" y="290" width="184" height="145"/></clipPath>
<clipPath id="px0"><path clip-rule="evenodd" d="M0,0H740V582H0ZM250,145H343V218H250ZM262,398H355V471H262ZM121,75H218V145H121ZM121,52H218V75H121ZM545,260H618V318H545ZM121,300H234V370H121Z"/></clipPath>
<clipPath id="pc1"><rect x="250" y="145" width="93" height="73"/></clipPath>
<clipPath id="px1"><path clip-rule="evenodd" d="M0,0H740V582H0ZM262,398H355V471H262ZM121,75H218V145H121ZM121,52H218V75H121ZM545,260H618V318H545ZM121,300H234V370H121Z"/></clipPath>
<clipPath id="pc2"><rect x="262" y="398" width="93" height="73"/></clipPath>
<clipPath id="px2"><path clip-rule="evenodd" d="M0,0H740V582H0ZM121,75H218V145H121ZM121,52H218V75H121ZM545,260H618V318H545ZM121,300H234V370H121Z"/></clipPath>
<clipPath id="pc3"><rect x="121" y="75" width="97" height="70"/></clipPath>
<clipPath id="px3"><path clip-rule="evenodd" d="M0,0H740V582H0ZM121,52H218V75H121ZM545,260H618V318H545ZM121,300H234V370H121Z"/></clipPath>
<clipPath id="pc4"><rect x="121" y="52" width="97" height="23"/></clipPath>
<clipPath id="px4"><path clip-rule="evenodd" d="M0,0H740V582H0ZM545,260H618V318H545ZM121,300H234V370H121Z"/></clipPath>
<clipPath id="pc5"><rect x="545" y="260" width="73" height="58"/></clipPath>
<clipPath id="px5"><path clip-rule="evenodd" d="M0,0H740V582H0ZM121,300H234V370H121Z"/></clipPath>
<clipPath id="pc6"><rect x="121" y="300" width="113" height="70"/></clipPath>
<clipPath id="px6"><path clip-rule="evenodd" d="M0,0H740V582H0Z"/></clipPath>
</defs>
<g shape-rendering="auto">
<g clip-path="url(#nopatch)">
<g transform="translate(118,48) scale(0.25)">
<polyline fill="none" stroke="#64676c" stroke-width="7.6" stroke-linejoin="round" stroke-linecap="round" points="155,18 200,35 235,38 260,48 300,52 340,60 372,65 447,65 462,72 487,75 537,78 572,88 590,104 632,105 677,112 712,95 742,80"/>
<polyline fill="none" stroke="#64676c" stroke-width="7.6" stroke-linejoin="round" stroke-linecap="round" points="487,75 482,95 457,108 437,120 417,133 405,145 410,160 422,163 447,168 472,178 462,193 437,208 430,228 445,240 447,233 465,233 465,250 452,270 458,295 473,297"/>
<polyline fill="none" stroke="#64676c" stroke-width="7.6" stroke-linejoin="round" stroke-linecap="round" points="368,299.5 372,303 392,309.5 409.5,319.5 404.5,327 419.5,327 437,317 444.5,302 447,292 458,297 477,292 497,302 517,317 532,334.5 527,349.5 517,357 497,349.5 484.5,352 494.5,362 477,367 457,374.5 447,382 432,382"/>
<polyline fill="none" stroke="#64676c" stroke-width="7.6" stroke-linejoin="round" stroke-linecap="round" points="447,382 467,394.5 502,394.5 557,389.5 612,384.5 657,382 674.5,362 692,331 702,331 717,357 742,377"/>
<polyline fill="none" stroke="#64676c" stroke-width="7.6" stroke-linejoin="round" stroke-linecap="round" points="432,382 447,422 459.5,462 474.5,502 492,532 507,557 519.5,582"/>
<polyline fill="none" stroke="#64676c" stroke-width="7.6" stroke-linejoin="round" stroke-linecap="round" points="547,582 554.5,557 569.5,542 587,532 594.5,512 607,487 617,457 622,432 632,423 644.5,423 662,432 677,442 692,452 712,467 732,484.5 742,492"/>
<polyline fill="none" stroke="#64676c" stroke-width="7.6" stroke-linejoin="round" stroke-linecap="round" points="629.5,582 634.5,552 642,527 629.5,512 619.5,497 622,479.5 632,474.5 639.5,492 644.5,512 652,532 659.5,557 662,582"/>
<polyline fill="none" stroke="#64676c" stroke-width="7.6" stroke-linejoin="round" stroke-linecap="round" points="677,442 667,472 657,497 662,512 682,522 702,532 722,539.5 742,542"/>
<polyline fill="none" stroke="#64676c" stroke-width="7.6" stroke-linejoin="round" stroke-linecap="round" points="692,457 712,477 727,497 742,512"/>
<polyline fill="none" stroke="#64676c" stroke-width="7.6" stroke-linejoin="round" stroke-linecap="round" points="372.5,302 340,299.5 330,312 335,329.5 327.5,337 305,339.5 280,349.5 250,364.5 225,374.5 205,382 192.5,387 200,374.5 212.5,368 200,364.5 187.5,358 170,364.5 150,379.5 132.5,394.5 120,412 107.5,432 106,447 117.5,462 132.5,472 142.5,489.5 152.5,507 167.5,517 185,527 200,534.5 195,552 187.5,572 182.5,582"/>
<polyline fill="none" stroke="#64676c" stroke-width="7.6" stroke-linejoin="round" stroke-linecap="round" points="192.5,387 175,387 160,399.5 150,414.5 142.5,427"/>
<polyline fill="none" stroke="#64676c" stroke-width="7.6" stroke-linejoin="round" stroke-linecap="round" points="135,579.5 150,577 165,564.5 172.5,554.5 175,572 170,582"/>
</g>
<g transform="translate(303,48) scale(0.25)">
<polyline fill="none" stroke="#64676c" stroke-width="7.6" stroke-linejoin="round" stroke-linecap="round" points="-5,80 20,55 60,42 110,40 160,35 220,25 270,16"/>
<polyline fill="none" stroke="#64676c" stroke-width="7.6" stroke-linejoin="round" stroke-linecap="round" points="380,16 400,50 430,85 460,100 490,120 510,145 540,170 570,185 595,205 605,235 630,250 660,245 690,265 710,285 745,292"/>
<polyline fill="none" stroke="#64676c" stroke-width="7.6" stroke-linejoin="round" stroke-linecap="round" points="430,85 400,78 365,80 350,100 320,120 290,140 250,155 215,170 200,195 220,215 230,245 225,275 190,285 150,300 125,320 135,345 125,375 100,395 70,390 40,380 -5,382"/>
<polyline fill="none" stroke="#64676c" stroke-width="7.6" stroke-linejoin="round" stroke-linecap="round" points="235,580 240,520 245,475 265,460 295,460 320,485 350,515 370,525 390,500 415,465 440,460 470,465 495,465 515,448 540,460 580,475 600,470 630,485 680,490 720,498 745,512"/>
</g>
<g transform="translate(488,48) scale(0.25)">
<polyline fill="none" stroke="#64676c" stroke-width="7.6" stroke-linejoin="round" stroke-linecap="round" points="-5,292 40,290 100,295 150,305 180,285 210,262 240,262 265,245 290,230 330,222 360,215 390,205 410,185"/>
<polyline fill="none" stroke="#64676c" stroke-width="7.6" stroke-linejoin="round" stroke-linecap="round" points="240,262 265,290 270,320 255,355 275,370 300,375 285,400 280,420 300,440 340,455 385,462 380,475 345,470 315,465 320,490 310,520 290,550 280,575"/>
<polyline fill="none" stroke="#64676c" stroke-width="7.6" stroke-linejoin="round" stroke-linecap="round" points="-5,512 40,500 90,490 130,485 160,495 200,510 230,520 225,545 250,560 280,555 310,550 350,560 370,580"/>
<polyline fill="none" stroke="#64676c" stroke-width="7.6" stroke-linejoin="round" stroke-linecap="round" points="411,182 429,181 457,185 484,187 521,182"/>
</g>
<g transform="translate(118,193) scale(0.25)">
<polyline fill="none" stroke="#64676c" stroke-width="7.6" stroke-linejoin="round" stroke-linecap="round" points="135,0 128,30 135,80 150,130 175,170 200,205 230,235 260,248 290,268 320,292 350,318 385,338 420,352 450,358 470,388 490,425 505,465 518,510 530,550 540,580"/>
<polyline fill="none" stroke="#64676c" stroke-width="7.6" stroke-linejoin="round" stroke-linecap="round" points="168,262 180,247 193,250 190,268 175,273 168,262"/>
<polyline fill="none" stroke="#64676c" stroke-width="7.6" stroke-linejoin="round" stroke-linecap="round" points="135,0 150,8 170,0"/>
<polyline fill="none" stroke="#64676c" stroke-width="7.6" stroke-linejoin="round" stroke-linecap="round" points="515,0 535,14 552,5 550,0"/>
<polyline fill="none" stroke="#64676c" stroke-width="7.6" stroke-linejoin="round" stroke-linecap="round" points="640,30 650,60 670,85 685,100 680,88 662,60 650,30 640,30"/>
<polyline fill="none" stroke="#64676c" stroke-width="7.6" stroke-linejoin="round" stroke-linecap="round" points="665,0 672,25 685,45"/>
<polyline fill="none" stroke="#64676c" stroke-width="7.6" stroke-linejoin="round" stroke-linecap="round" points="730,30 740,48"/>
</g>
<g transform="translate(303,193) scale(0.25)">
<polyline fill="none" stroke="#64676c" stroke-width="7.6" stroke-linejoin="round" stroke-linecap="round" points="20,-2.5 25,25 35,47.5 50,65 65,80 80,95 100,112.5 120,130 135,145 150,155 165,159 180,161 150,160 135,150 125,145 120,160 107.5,167.5 92.5,165 87.5,170 95,187.5 110,205 125,222.5 142.5,242.5 160,257.5 175,270 190,282.5 200,290"/>
<polyline fill="none" stroke="#64676c" stroke-width="7.6" stroke-linejoin="round" stroke-linecap="round" points="200,290 220,300 250,320 270,340 280,365 300,385 330,392 365,378 372,372 402,372 422,384.5 447,399.5 472,412 497,417 522,432 537,447 552,464.5 572,479.5 592,489.5 612,504.5 632,519.5 652,537 667,549.5 692,554.5 712,562 732,569.5 744.5,578"/>
<polyline fill="none" stroke="#64676c" stroke-width="7.6" stroke-linejoin="round" stroke-linecap="round" points="0,45 22.5,67.5 47.5,87.5 65,92.5 82.5,112.5 100,131 117.5,146"/>
<polyline fill="none" stroke="#64676c" stroke-width="7.6" stroke-linejoin="round" stroke-linecap="round" points="0,55 20,75 42.5,97.5 60,112.5 75,130 82.5,150 92.5,165"/>
<polyline fill="none" stroke="#64676c" stroke-width="7.6" stroke-linejoin="round" stroke-linecap="round" points="17.5,190 40,212.5 60,232.5 80,252.5 100,265 107.5,272.5 102.5,277.5 90,275 75,257.5 55,237.5 35,215 20,197.5 17.5,190"/>
<polyline fill="none" stroke="#64676c" stroke-width="7.6" stroke-linejoin="round" stroke-linecap="round" points="230,-2.5 245,15 265,30 287.5,35 297.5,50 300,67.5 315,82.5 327.5,97.5 335,117.5 342.5,140 340,160 330,175 345,180 360,182.5 372,195 372,192.5 382,215 399.5,231 424.5,234 437,250 452,267.5 469.5,292 467,292 487,312 507,334.5 527,354.5 547,374.5 567,387 587,394.5 602,399.5 599.5,417 607,442 622,464.5 642,482 662,497 682,512 697,527 699.5,542 692,554.5"/>
<polyline fill="none" stroke="#64676c" stroke-width="7.6" stroke-linejoin="round" stroke-linecap="round" points="394.5,434.5 399.5,423 422,421 457,423 492,427 512,442 507,454.5 482,458 447,457 417,453 397,444.5 394.5,434.5"/>
<polyline fill="none" stroke="#64676c" stroke-width="7.6" stroke-linejoin="round" stroke-linecap="round" points="387,479.5 402,472 427,469.5 457,477 482,487 522,492 562,494.5 564.5,502 522,501 482,499.5 447,502 417,494.5 397,487 387,479.5"/>
<polyline fill="none" stroke="#64676c" stroke-width="7.6" stroke-linejoin="round" stroke-linecap="round" points="447,542 472,536 512,539.5 542,542 577,544.5 579.5,554.5 547,559.5 512,566 482,564.5 457,554.5 447,542"/>
<polyline fill="none" stroke="#64676c" stroke-width="7.6" stroke-linejoin="round" stroke-linecap="round" points="537,527 547,519.5 577,524.5 607,534.5 637,547 667,559.5 692,564.5 687,569.5 657,567 627,559.5 597,549.5 567,539.5 542,534.5 537,527"/>
<polyline fill="none" stroke="#64676c" stroke-width="7.6" stroke-linejoin="round" stroke-linecap="round" points="310,525 325,513 350,515 355,525 340,535 318,535 310,525"/>
</g>
<g transform="translate(488,193) scale(0.25)">
<polyline fill="none" stroke="#64676c" stroke-width="7.6" stroke-linejoin="round" stroke-linecap="round" points="372,-5 350,30 325,70 310,100 305,130 320,155 350,165 380,180 410,210 435,232 410,255 375,255 345,240 360,265 390,290 405,320 400,360 370,370 340,385 310,378 285,372 270,390 290,410 300,440 290,462 270,450 265,430 240,435 215,450 200,480 200,515 175,535 160,555 150,584"/>
<polyline fill="none" stroke="#64676c" stroke-width="7.6" stroke-linejoin="round" stroke-linecap="round" points="340,385 370,415 400,445 430,475 450,490 490,500 525,515"/>
</g>
<g transform="translate(118,338) scale(0.25)">
<polyline fill="none" stroke="#64676c" stroke-width="7.6" stroke-linejoin="round" stroke-linecap="round" points="0,205 12,215 40,240 75,255 100,280 125,315 160,350 200,385 240,410 280,425 310,450 320,470 345,468 380,460 420,465 460,468 490,475 510,495 525,515 545,545 560,580"/>
<polyline fill="none" stroke="#64676c" stroke-width="7.6" stroke-linejoin="round" stroke-linecap="round" points="535,-5 550,40 575,80 610,120 650,155 690,185 725,205 745,232"/>
</g>
<g transform="translate(303,338) scale(0.25)">
<polyline fill="none" stroke="#64676c" stroke-width="7.6" stroke-linejoin="round" stroke-linecap="round" points="-5,228 30,245 70,268 120,275 180,278 230,272 280,268 310,270 335,285 345,305 335,325 310,340 280,355 268,375 275,400 300,420 340,440 390,465 440,485 490,505 540,520 580,535 610,555 630,584"/>
<polyline fill="none" stroke="#64676c" stroke-width="7.6" stroke-linejoin="round" stroke-linecap="round" points="615,18 640,12 690,30 718,42 712,50 680,42 640,30 615,25 615,18"/>
<polyline fill="none" stroke="#64676c" stroke-width="7.6" stroke-linejoin="round" stroke-linecap="round" points="650,-3 700,8 745,20"/>
</g>
<g transform="translate(488,338) scale(0.25)">
<polyline fill="none" stroke="#64676c" stroke-width="7.6" stroke-linejoin="round" stroke-linecap="round" points="-5,5 40,45 80,80 120,110 150,125 165,130 185,120 210,125 205,140 180,140 165,130 200,142 240,160 275,195 305,225 315,255 340,270 360,290 380,295 410,300 425,315 425,350 415,385 395,410 390,440 400,470 395,500 400,540 405,565 400,584"/>
<polyline fill="none" stroke="#64676c" stroke-width="7.6" stroke-linejoin="round" stroke-linecap="round" points="150,-5 165,20 180,45 170,65 150,75 150,110 165,130"/>
<polyline fill="none" stroke="#64676c" stroke-width="7.6" stroke-linejoin="round" stroke-linecap="round" points="360,290 365,250 370,215 355,190 370,165 400,130 425,95 440,65 455,60 465,90 485,105 525,90"/>
<polyline fill="none" stroke="#64676c" stroke-width="7.6" stroke-linejoin="round" stroke-linecap="round" points="-5,-5 30,20 70,45 120,70 150,75"/>
</g>
<g transform="translate(250,470) scale(0.25)">
<polyline fill="none" stroke="#64676c" stroke-width="7.6" stroke-linejoin="round" stroke-linecap="round" points="40,56 50,65 80,68 110,65 135,80 140,100 115,125 120,135 150,125 180,118 215,115 235,135 250,160 262,185 268,210 260,240"/>
<polyline fill="none" stroke="#64676c" stroke-width="7.6" stroke-linejoin="round" stroke-linecap="round" points="690,240 705,215 725,200 745,188"/>
</g>
<g transform="translate(435,470) scale(0.25)">
<polyline fill="none" stroke="#64676c" stroke-width="7.6" stroke-linejoin="round" stroke-linecap="round" points="100,50 130,70 170,85 210,100 245,115 260,140 280,160 310,185 335,210 360,240"/>
<polyline fill="none" stroke="#64676c" stroke-width="7.6" stroke-linejoin="round" stroke-linecap="round" points="-5,165 30,158 60,165 90,172 70,185 60,195 90,210 130,225 180,232 230,240"/>
<polyline fill="none" stroke="#64676c" stroke-width="7.6" stroke-linejoin="round" stroke-linecap="round" points="620,48 600,60 585,85 575,115 570,130 590,140 605,155 605,185 595,210 585,215 570,190 565,185 580,215 590,240"/>
</g>
</g>
<g clip-path="url(#pc0)"><g clip-path="url(#px0)"><g transform="translate(434,290) scale(0.25)">
<polyline fill="none" stroke="#64676c" stroke-width="7.6" stroke-linejoin="round" stroke-linecap="round" points="-5,30 30,60 60,85 90,110 120,135 150,160 175,175 205,172 215,190 250,215 290,240 320,262 350,262 365,280 370,305 385,320 400,310 425,310 420,330 400,332 385,320 430,340 460,360 490,385 510,415 530,445 545,465 580,485 610,488 635,500 640,530 635,584"/>
<polyline fill="none" stroke="#64676c" stroke-width="7.6" stroke-linejoin="round" stroke-linecap="round" points="-5,-5 40,8 72,18 80,45 110,80 145,110 175,135 180,158 150,160"/>
<polyline fill="none" stroke="#64676c" stroke-width="7.6" stroke-linejoin="round" stroke-linecap="round" points="-5,110 40,112"/>
<polyline fill="none" stroke="#64676c" stroke-width="7.6" stroke-linejoin="round" stroke-linecap="round" points="-5,150 30,148 60,155 100,162 140,172"/>
<polyline fill="none" stroke="#64676c" stroke-width="7.6" stroke-linejoin="round" stroke-linecap="round" points="-5,170 40,165"/>
<polyline fill="none" stroke="#64676c" stroke-width="7.6" stroke-linejoin="round" stroke-linecap="round" points="92,210 120,208 160,222 192,235 188,242 150,232 110,220 92,215 92,210"/>
<polyline fill="none" stroke="#64676c" stroke-width="7.6" stroke-linejoin="round" stroke-linecap="round" points="365,280 370,240 385,215 375,190 365,180 380,150 410,120 420,90 440,60 470,45 495,50 500,70 515,60 520,40 505,15 490,-5"/>
<polyline fill="none" stroke="#64676c" stroke-width="7.6" stroke-linejoin="round" stroke-linecap="round" points="550,-5 590,30 630,60 660,90 700,110 745,127"/>
<polyline fill="none" stroke="#64676c" stroke-width="7.6" stroke-linejoin="round" stroke-linecap="round" points="580,485 585,440 575,400 570,375 595,345 620,310 640,280 655,255 675,250 685,275 700,295 745,285"/>
</g></g></g>
<g clip-path="url(#pc1)"><g clip-path="url(#px1)"><g transform="translate(250,145) scale(0.125676)">
<polyline fill="none" stroke="#64676c" stroke-width="15.1183" stroke-linejoin="round" stroke-linecap="round" points="-5,408 30,385 50,375 45,350 60,320 90,300 120,290 130,255 150,215 165,175 175,130 190,90 215,70 245,75 280,95 320,120 300,150 280,185 260,215 275,240 310,260 345,280 380,300 415,305 435,280 420,250 395,225 365,190 345,160 320,125"/>
<polyline fill="none" stroke="#64676c" stroke-width="15.1183" stroke-linejoin="round" stroke-linecap="round" points="320,120 360,145 400,175 440,205 465,240 480,280 490,320 485,360 475,400 465,440 480,470 510,500 545,530 580,560 600,590"/>
<polyline fill="none" stroke="#64676c" stroke-width="15.1183" stroke-linejoin="round" stroke-linecap="round" points="185,195 200,175 215,185 225,220 230,250 215,240 195,220 185,195"/>
<polyline fill="none" stroke="#64676c" stroke-width="15.1183" stroke-linejoin="round" stroke-linecap="round" points="230,250 240,290 235,320 215,330 210,370 225,420 245,465 270,495 295,510 300,480 290,440 280,400 275,350 270,310 255,280 240,260"/>
<polyline fill="none" stroke="#64676c" stroke-width="15.1183" stroke-linejoin="round" stroke-linecap="round" points="215,440 218,480 232,520 255,548 285,575 300,590"/>
<polyline fill="none" stroke="#64676c" stroke-width="15.1183" stroke-linejoin="round" stroke-linecap="round" points="228,470 245,510 270,540 300,565"/>
<polyline fill="none" stroke="#64676c" stroke-width="15.1183" stroke-linejoin="round" stroke-linecap="round" points="400,452 430,482 470,516 510,546 545,572 560,590"/>
<polyline fill="none" stroke="#64676c" stroke-width="15.1183" stroke-linejoin="round" stroke-linecap="round" points="445,505 480,540 515,572"/>
<polyline fill="none" stroke="#64676c" stroke-width="15.1183" stroke-linejoin="round" stroke-linecap="round" points="500,505 530,530 560,555 585,590"/>
<polyline fill="none" stroke="#64676c" stroke-width="15.1183" stroke-linejoin="round" stroke-linecap="round" points="-5,2 60,0 180,-3"/>
<polyline fill="none" stroke="#64676c" stroke-width="15.1183" stroke-linejoin="round" stroke-linecap="round" points="430,5 470,-5"/>
<polyline fill="none" stroke="#64676c" stroke-width="15.1183" stroke-linejoin="round" stroke-linecap="round" points="560,-5 590,12 630,15 665,-5"/>
</g></g></g>
<g clip-path="url(#pc2)"><g clip-path="url(#px2)"><g transform="translate(262,398) scale(0.125676)">
<polyline fill="none" stroke="#64676c" stroke-width="15.1183" stroke-linejoin="round" stroke-linecap="round" points="340,-5 370,15 400,20 440,30 470,60 520,72 580,75 640,72 700,70 750,68"/>
</g></g></g>
<g clip-path="url(#pc3)"><g clip-path="url(#px3)"><g transform="translate(118,75) scale(0.166216)">
<polyline fill="none" stroke="#64676c" stroke-width="11.4309" stroke-linejoin="round" stroke-linecap="round" points="205,425 230,400 260,380 285,378 320,392 290,408 265,425"/>
<polyline fill="none" stroke="#64676c" stroke-width="11.4309" stroke-linejoin="round" stroke-linecap="round" points="300,425 340,400 400,375 460,350 495,340 500,310 520,290 560,295 600,302 640,312"/>
<polyline fill="none" stroke="#64676c" stroke-width="11.4309" stroke-linejoin="round" stroke-linecap="round" points="690,0 650,25 610,50 615,75 650,85"/>
</g></g></g>
<g clip-path="url(#pc4)"><g clip-path="url(#px4)"><g transform="translate(118,48) scale(0.166216)">
<polyline fill="none" stroke="#64676c" stroke-width="11.4309" stroke-linejoin="round" stroke-linecap="round" points="230,20 270,40 320,55 370,62 410,72 470,82 530,95 600,105 660,112 735,118"/>
</g></g></g>
<g clip-path="url(#pc5)"><g clip-path="url(#px5)"><g transform="translate(545,260) scale(0.1)">
<polyline fill="none" stroke="#64676c" stroke-width="19" stroke-linejoin="round" stroke-linecap="round" points="305,-5 345,25 390,65 425,95 438,130 440,175 430,235 385,240 335,260 285,290 265,295 210,275 140,262 110,285 100,310 125,340 150,370 170,410 185,450 175,490 140,500 110,480 95,440 75,410 40,415 -5,442"/>
<polyline fill="none" stroke="#64676c" stroke-width="19" stroke-linejoin="round" stroke-linecap="round" points="270,295 300,330 340,360 390,400 430,440 470,490 510,540 560,560 620,575 670,590"/>
</g></g></g>
<g clip-path="url(#pc6)"><g clip-path="url(#px6)"><g transform="translate(118,300) scale(0.166216)">
</g></g></g>
</g>
<g stroke="#6c6c78" stroke-width="1" stroke-dasharray="1.5 4.57" fill="none">
<line x1="136.5" y1="52" x2="136.5" y2="529"/>
<line x1="196.5" y1="52" x2="196.5" y2="529"/>
<line x1="257.5" y1="52" x2="257.5" y2="529"/>
<line x1="317.5" y1="52" x2="317.5" y2="529"/>
<line x1="377.5" y1="52" x2="377.5" y2="529"/>
<line x1="438.5" y1="52" x2="438.5" y2="529"/>
<line x1="498.5" y1="52" x2="498.5" y2="529"/>
<line x1="558.5" y1="52" x2="558.5" y2="529"/>
<line x1="121" y1="106.5" x2="618" y2="106.5"/>
<line x1="121" y1="180.5" x2="618" y2="180.5"/>
<line x1="121" y1="254.5" x2="618" y2="254.5"/>
<line x1="121" y1="327.5" x2="618" y2="327.5"/>
<line x1="121" y1="401.5" x2="618" y2="401.5"/>
<line x1="121" y1="475.5" x2="618" y2="475.5"/>
</g>
</g>
<g shape-rendering="crispEdges">
<rect x="516" y="52" width="102" height="41" fill="#000"/><rect x="517" y="52" width="101" height="40" fill="#fff"/>
<rect x="121" y="465" width="135" height="64" fill="#000"/><rect x="121" y="466" width="134" height="63" fill="#fff"/>
<rect x="120" y="51" width="499" height="479" fill="none" stroke="#000" stroke-width="2"/>
<rect x="136" y="531" width="1" height="3" fill="#000"/>
<rect x="196" y="531" width="1" height="3" fill="#000"/>
<rect x="257" y="531" width="1" height="3" fill="#000"/>
<rect x="317" y="531" width="1" height="3" fill="#000"/>
<rect x="377" y="531" width="1" height="3" fill="#000"/>
<rect x="438" y="531" width="1" height="3" fill="#000"/>
<rect x="498" y="531" width="1" height="3" fill="#000"/>
<rect x="558" y="531" width="1" height="3" fill="#000"/>
<rect x="618" y="531" width="1" height="3" fill="#000"/>
<rect x="116" y="106" width="3" height="1" fill="#000"/>
<rect x="116" y="180" width="3" height="1" fill="#000"/>
<rect x="116" y="254" width="3" height="1" fill="#000"/>
<rect x="116" y="327" width="3" height="1" fill="#000"/>
<rect x="116" y="401" width="3" height="1" fill="#000"/>
<rect x="116" y="475" width="3" height="1" fill="#000"/>
<rect x="652" y="77" width="15" height="19" fill="#ffefdb"/>
<rect x="652" y="96" width="15" height="18" fill="#d8bfd8"/>
<rect x="652" y="114" width="15" height="19" fill="#dda0dd"/>
<rect x="652" y="133" width="15" height="18" fill="#ba55d3"/>
<rect x="652" y="151" width="15" height="19" fill="#8b008b"/>
<rect x="652" y="170" width="15" height="19" fill="#960000"/>
<rect x="652" y="189" width="15" height="18" fill="#cd0000"/>
<rect x="652" y="207" width="15" height="19" fill="#ff0000"/>
<rect x="652" y="226" width="15" height="19" fill="#ff5500"/>
<rect x="652" y="245" width="15" height="18" fill="#f08228"/>
<rect x="652" y="263" width="15" height="19" fill="#e6af2d"/>
<rect x="652" y="282" width="15" height="18" fill="#e6dc32"/>
<rect x="652" y="300" width="15" height="19" fill="#f0f064"/>
<rect x="652" y="319" width="15" height="19" fill="#dcf5a0"/>
<rect x="652" y="338" width="15" height="18" fill="#a0e632"/>
<rect x="652" y="356" width="15" height="19" fill="#00dc00"/>
<rect x="652" y="375" width="15" height="19" fill="#00b400"/>
<rect x="652" y="394" width="15" height="18" fill="#008200"/>
<rect x="652" y="412" width="15" height="19" fill="#1e3cff"/>
<rect x="652" y="431" width="15" height="18" fill="#00a0e6"/>
<rect x="652" y="449" width="15" height="19" fill="#add8e6"/>
<rect x="652" y="468" width="15" height="19" fill="#e0ffff"/>
</g>
<g shape-rendering="auto" text-rendering="geometricPrecision">
<text x="170.4" y="40.3" font-size="16.5" textLength="96.6" lengthAdjust="spacing" style="stroke:#fff;stroke-width:0.25">Temperatura</text>
<text x="279" y="40.3" font-size="16.5" textLength="40" lengthAdjust="spacingAndGlyphs" style="stroke:#fff;stroke-width:0.25">zraka</text>
<text x="331" y="40.3" font-size="16.5" textLength="17.8" lengthAdjust="spacingAndGlyphs" style="stroke:#fff;stroke-width:0.25">na</text>
<text x="357.7" y="40.3" font-size="16.5" textLength="23.6" lengthAdjust="spacing" style="stroke:#fff;stroke-width:0.25">2m</text>
<text x="393.5" y="40.3" font-size="16.5" textLength="8.1" lengthAdjust="spacingAndGlyphs" style="stroke:#fff;stroke-width:0.25">u</text>
<text x="411.6" y="40.3" font-size="16.5" textLength="17.9" lengthAdjust="spacingAndGlyphs" style="stroke:#fff;stroke-width:0.25">03</text>
<text x="440.7" y="40.3" font-size="16.5" textLength="27.4" lengthAdjust="spacingAndGlyphs" style="stroke:#fff;stroke-width:0.25">UTC</text>
<text x="480.6" y="40.3" font-size="16.5" textLength="89.2" lengthAdjust="spacingAndGlyphs" style="stroke:#fff;stroke-width:0.25">13MAR2013</text>
<text x="670.5" y="80.6" font-size="11" textLength="13.4" lengthAdjust="spacing" >29</text>
<text x="670.5" y="99.2182" font-size="11" textLength="13.4" lengthAdjust="spacing" >27</text>
<text x="670.5" y="117.836" font-size="11" textLength="13.4" lengthAdjust="spacing" >25</text>
<text x="670.5" y="136.455" font-size="11" textLength="13.4" lengthAdjust="spacing" >23</text>
<text x="670.5" y="155.073" font-size="11" textLength="13.4" lengthAdjust="spacing" >21</text>
<text x="670.5" y="173.691" font-size="11" textLength="13.4" lengthAdjust="spacing" >19</text>
<text x="670.5" y="192.309" font-size="11" textLength="13.4" lengthAdjust="spacing" >17</text>
<text x="670.5" y="210.927" font-size="11" textLength="13.4" lengthAdjust="spacing" >15</text>
<text x="670.5" y="229.545" font-size="11" textLength="13.4" lengthAdjust="spacing" >13</text>
<text x="670.5" y="248.164" font-size="11" textLength="13.4" lengthAdjust="spacing" >11</text>
<text x="670.5" y="266.782" font-size="11" textLength="6.7" lengthAdjust="spacing" >9</text>
<text x="670.5" y="285.4" font-size="11" textLength="6.7" lengthAdjust="spacing" >7</text>
<text x="670.5" y="304.018" font-size="11" textLength="6.7" lengthAdjust="spacing" >5</text>
<text x="670.5" y="322.636" font-size="11" textLength="6.7" lengthAdjust="spacing" >3</text>
<text x="670.5" y="341.255" font-size="11" textLength="6.7" lengthAdjust="spacing" >1</text>
<text x="670.5" y="359.873" font-size="11" textLength="14.5" lengthAdjust="spacing" >−1</text>
<text x="670.5" y="378.491" font-size="11" textLength="14.5" lengthAdjust="spacing" >−3</text>
<text x="670.5" y="397.109" font-size="11" textLength="14.5" lengthAdjust="spacing" >−5</text>
<text x="670.5" y="415.727" font-size="11" textLength="14.5" lengthAdjust="spacing" >−7</text>
<text x="670.5" y="434.345" font-size="11" textLength="14.5" lengthAdjust="spacing" >−9</text>
<text x="670.5" y="452.964" font-size="11" textLength="21.5" lengthAdjust="spacing" >−11</text>
<text x="670.5" y="471.582" font-size="11" textLength="21.5" lengthAdjust="spacing" >−13</text>
<text x="670.5" y="490.2" font-size="11" textLength="21.5" lengthAdjust="spacing" >−15</text>
<text x="670.5" y="508.818" font-size="11" textLength="21.5" lengthAdjust="spacing" >−17</text>
<text x="663" y="528" font-size="9.5" textLength="36" lengthAdjust="spacing" >(st. C)</text>
<text x="129" y="543.6" font-size="9.8" textLength="15" lengthAdjust="spacingAndGlyphs" >12E</text>
<text x="189.3" y="543.6" font-size="9.8" textLength="15" lengthAdjust="spacingAndGlyphs" >13E</text>
<text x="249.6" y="543.6" font-size="9.8" textLength="15" lengthAdjust="spacingAndGlyphs" >14E</text>
<text x="309.9" y="543.6" font-size="9.8" textLength="15" lengthAdjust="spacingAndGlyphs" >15E</text>
<text x="370.2" y="543.6" font-size="9.8" textLength="15" lengthAdjust="spacingAndGlyphs" >16E</text>
<text x="430.5" y="543.6" font-size="9.8" textLength="15" lengthAdjust="spacingAndGlyphs" >17E</text>
<text x="490.8" y="543.6" font-size="9.8" textLength="15" lengthAdjust="spacingAndGlyphs" >18E</text>
<text x="551.1" y="543.6" font-size="9.8" textLength="15" lengthAdjust="spacingAndGlyphs" >19E</text>
<text x="611.4" y="543.6" font-size="9.8" textLength="15" lengthAdjust="spacingAndGlyphs" >20E</text>
<text x="97.3" y="110.1" font-size="9.8" textLength="17" lengthAdjust="spacingAndGlyphs" >46N</text>
<text x="97.3" y="183.9" font-size="9.8" textLength="17" lengthAdjust="spacingAndGlyphs" >45N</text>
<text x="97.3" y="257.7" font-size="9.8" textLength="17" lengthAdjust="spacingAndGlyphs" >44N</text>
<text x="97.3" y="331.5" font-size="9.8" textLength="17" lengthAdjust="spacingAndGlyphs" >43N</text>
<text x="97.3" y="405.3" font-size="9.8" textLength="17" lengthAdjust="spacingAndGlyphs" >42N</text>
<text x="97.3" y="479.1" font-size="9.8" textLength="17" lengthAdjust="spacingAndGlyphs" >41N</text>
<text x="529.5" y="78.4" font-size="20" textLength="14.5" lengthAdjust="spacingAndGlyphs" style="fill:#1e3cff;stroke:#1e3cff;stroke-width:0.3">©</text>
<text x="548.9" y="78.4" font-size="20" textLength="56.2" lengthAdjust="spacingAndGlyphs" style="fill:#1e3cff;stroke:#1e3cff;stroke-width:0.5">DHMZ</text>
<text x="148.5" y="483.1" font-size="9.8" textLength="99.5" lengthAdjust="spacing" >Temperatura zraka</text>
<text x="172.7" y="496.5" font-size="9.8" textLength="75.3" lengthAdjust="spacing" >na 2m (st. C)</text>
<text x="138.8" y="510.1" font-size="9.8" textLength="109.2" lengthAdjust="spacing" >start 00z12mar2013</text>
<text x="128.4" y="523.5" font-size="9.8" textLength="119.6" lengthAdjust="spacing" >termin 03Z13MAR2013</text>
</g>
</svg></body></html>
